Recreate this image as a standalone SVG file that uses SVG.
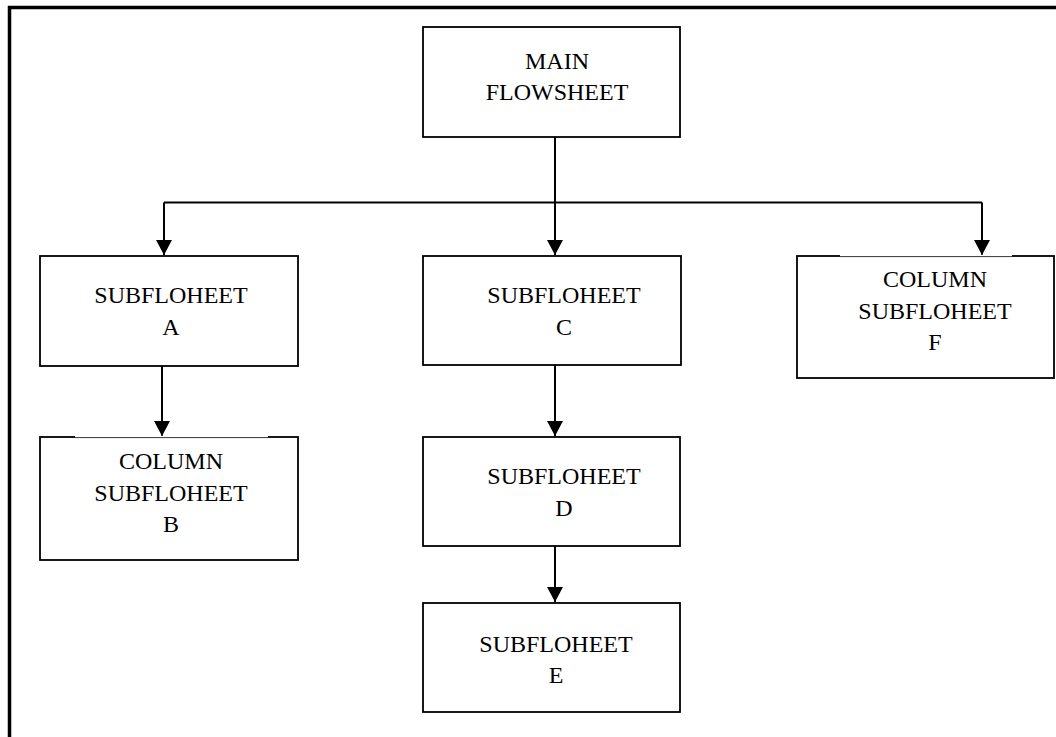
<svg xmlns="http://www.w3.org/2000/svg" width="1056" height="737" viewBox="0 0 1056 737">
<style>
.box{fill:#fff;stroke:#000;stroke-width:1.8}
.t{font-family:"Liberation Serif","Times New Roman",serif;font-size:24px;fill:#000;text-anchor:middle}
.c{fill:none;stroke:#000;stroke-width:2}
.frame{fill:none;stroke:#000;stroke-width:3.5}
</style>
<defs>
<marker id="arr" markerWidth="15" markerHeight="16" refX="15" refY="8" orient="auto" markerUnits="userSpaceOnUse">
<path d="M0,0 L15,8 L0,16 z" fill="#000"/>
</marker>
</defs>
<rect width="1056" height="737" fill="#fff"/>
<g id="frame"><path class="frame" d="M9.5,737 V7.5 H1056"/></g>
<g id="connectors">
<path class="c" d="M555,137 V255" marker-end="url(#arr)"/>
<path class="c" d="M164,202.5 H982"/>
<path class="c" d="M164,202.5 V255" marker-end="url(#arr)"/>
<path class="c" d="M982,202.5 V255" marker-end="url(#arr)"/>
<path class="c" d="M162,366 V436" marker-end="url(#arr)"/>
<path class="c" d="M555,365 V436" marker-end="url(#arr)"/>
<path class="c" d="M555,546 V602" marker-end="url(#arr)"/>
</g>
<g id="main">
<rect class="box" x="423" y="27" width="257" height="110"/>
<text class="t" x="557" y="69">MAIN</text>
<text class="t" x="557" y="100">FLOWSHEET</text>
</g>
<g id="subA">
<rect class="box" x="40" y="256" width="258" height="110"/>
<text class="t" x="171" y="303">SUBFLOHEET</text>
<text class="t" x="171" y="335">A</text>
</g>
<g id="subB">
<rect class="box" x="40" y="437" width="258" height="123"/>
<path d="M75,437 H268" stroke="#fff" stroke-width="2.6"/>
<path d="M75,437.6 H268" stroke="#000" stroke-width="0.8"/>
<text class="t" x="171" y="469">COLUMN</text>
<text class="t" x="171" y="501">SUBFLOHEET</text>
<text class="t" x="171" y="532">B</text>
</g>
<g id="subC">
<rect class="box" x="423" y="256" width="258" height="109"/>
<text class="t" x="564" y="303">SUBFLOHEET</text>
<text class="t" x="564" y="335">C</text>
</g>
<g id="subD">
<rect class="box" x="423" y="437" width="257" height="109"/>
<text class="t" x="564" y="484">SUBFLOHEET</text>
<text class="t" x="564" y="516">D</text>
</g>
<g id="subE">
<rect class="box" x="423" y="603" width="257" height="109"/>
<text class="t" x="556" y="652">SUBFLOHEET</text>
<text class="t" x="556" y="683">E</text>
</g>
<g id="subF">
<rect class="box" x="797" y="256" width="257" height="122"/>
<path d="M840,256 H1012" stroke="#fff" stroke-width="2.6"/>
<path d="M840,256.6 H1012" stroke="#000" stroke-width="0.8"/>
<text class="t" x="935" y="287">COLUMN</text>
<text class="t" x="935" y="319">SUBFLOHEET</text>
<text class="t" x="935" y="350">F</text>
</g>
</svg>
